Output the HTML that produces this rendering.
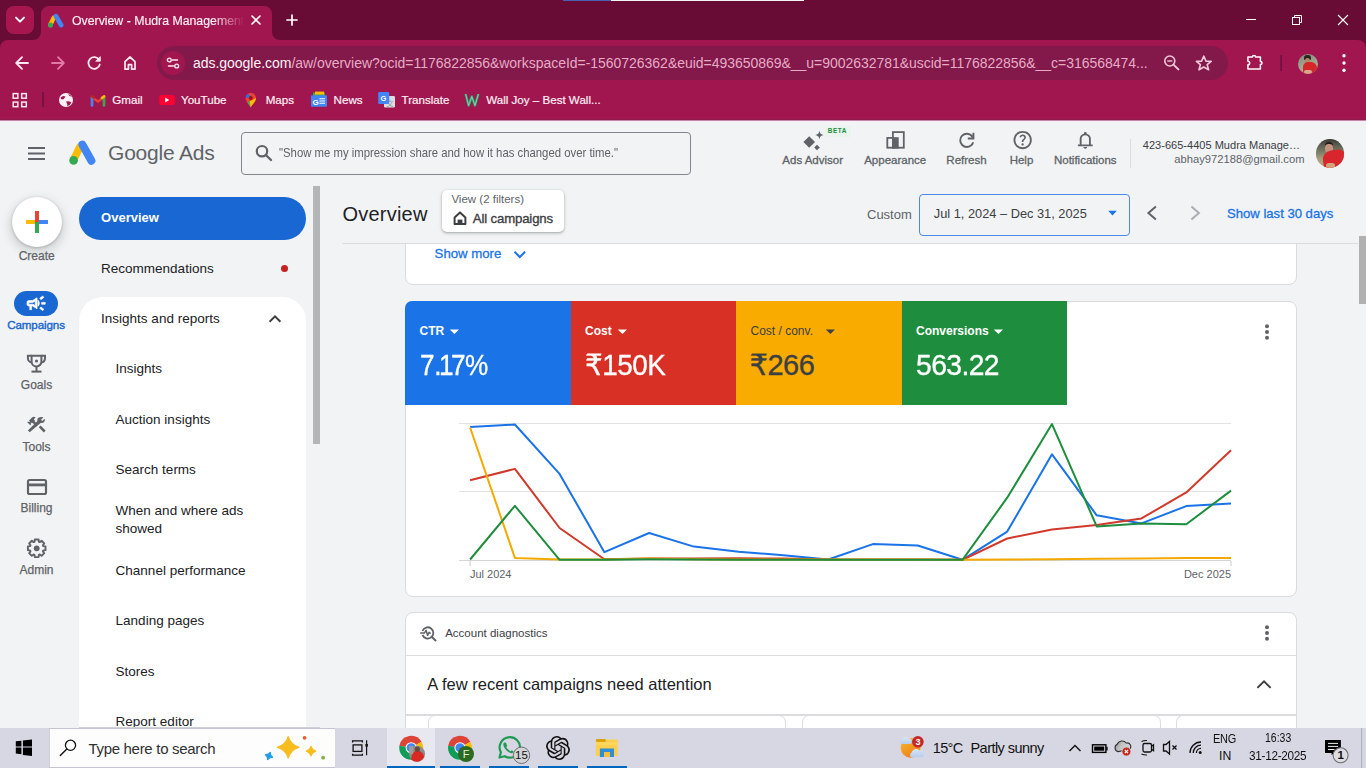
<!DOCTYPE html>
<html><head><meta charset="utf-8"><title>Overview - Mudra Management</title>
<style>
*{box-sizing:border-box;margin:0;padding:0}
html,body{width:1366px;height:768px;overflow:hidden;background:#f1f3f4;font-family:"Liberation Sans",Arial,sans-serif}
.a{position:absolute}
.t{position:absolute;white-space:nowrap;line-height:1}
svg{position:absolute;overflow:visible}
#tabstrip{left:0;top:0;width:1366px;height:50px;background:#680c36}
#toolbar{left:0;top:40px;width:1366px;height:80px;background:#a2164f;border-radius:8px 8px 0 0}
</style></head><body>
<!-- ============ BROWSER CHROME ============ -->
<div id="tabstrip" class="a"></div>
<div id="toolbar" class="a"></div>
<div class="a" style="left:0;top:119px;width:1366px;height:1px;background:#8f1a4d"></div>
<div class="a" style="left:0;top:120px;width:1366px;height:1px;background:#bd8aaa"></div>
<div class="a" style="left:0;top:121px;width:1366px;height:1px;background:#fdebf7"></div>

<!-- top progress bar -->
<div class="a" style="left:563px;top:0;width:48px;height:1px;background:#4a5fb3"></div>
<div class="a" style="left:611px;top:0;width:193px;height:1px;background:#f4f4f6"></div>
<!-- tab search dropdown -->
<div class="a" style="left:6px;top:6px;width:28px;height:28px;border-radius:8px;background:#a7164f"></div>
<svg style="left:0;top:0" width="40" height="40"><polyline points="16,17.6 20,21.6 24,17.6" fill="none" stroke="#fff" stroke-width="1.9" stroke-linecap="round" stroke-linejoin="round"/></svg>
<!-- active tab -->
<svg style="left:0;top:0" width="300" height="40"><path d="M33 40 A8 8 0 0 0 41 32 L41 14 A8 8 0 0 1 49 6 L264 6 A8 8 0 0 1 272 14 L272 32 A8 8 0 0 0 280 40 Z" fill="#a2164f"/></svg>
<svg style="left:48px;top:13px" width="16" height="15" viewBox="0 0 27 24"><line x1="9.5" y1="7.5" x2="3.8" y2="19.6" stroke="#fbbc04" stroke-width="7.5" stroke-linecap="round"/><line x1="13.4" y1="4.6" x2="22.3" y2="19.8" stroke="#4285f4" stroke-width="8" stroke-linecap="round"/><circle cx="4.3" cy="19.6" r="4.3" fill="#34a853"/></svg>
<div class="a" style="left:72px;top:9px;width:172px;height:22px;overflow:hidden;-webkit-mask-image:linear-gradient(90deg,#000 82%,transparent 100%);mask-image:linear-gradient(90deg,#000 82%,transparent 100%)"><div class="t" style="left:0;top:5.6px;font-size:12.3px;color:#fdf0f5;-webkit-text-stroke:0.15px #fdf0f5">Overview - Mudra Management</div></div>
<svg style="left:0;top:0" width="300" height="40"><path d="M252 16 L260 24 M260 16 L252 24" stroke="#fff" stroke-width="1.6" stroke-linecap="round"/><path d="M292 15 V25 M287 20 H297" stroke="#fff" stroke-width="1.7" stroke-linecap="round"/></svg>
<!-- window controls -->
<svg style="left:1230px;top:0" width="136" height="40"><path d="M16 19.5 H26" stroke="#fff" stroke-width="1"/><rect x="62.5" y="17.5" width="7" height="7" fill="none" stroke="#fff" stroke-width="1"/><path d="M64.5 17.5 V15.5 H71.5 V22.5 H69.5" fill="none" stroke="#fff" stroke-width="1"/><path d="M108 15 L118 25 M118 15 L108 25" stroke="#fff" stroke-width="1.1"/></svg>
<!-- nav buttons -->
<svg style="left:0;top:40px" width="150" height="44">
<path d="M16.5 23 H28 M22 17.2 L16.2 23 L22 28.8" fill="none" stroke="#fde7f0" stroke-width="1.8" stroke-linecap="round" stroke-linejoin="round"/>
<path d="M52 23 H63.5 M58 17.2 L63.8 23 L58 28.8" fill="none" stroke="#e07ba6" stroke-width="1.8" stroke-linecap="round" stroke-linejoin="round"/>
<path d="M99.2 20 A5.8 5.8 0 1 0 99.8 24.5" fill="none" stroke="#fde7f0" stroke-width="1.8" stroke-linecap="round"/>
<path d="M100.3 16.6 V21.2 H95.7 Z" fill="#fde7f0" stroke="#fde7f0" stroke-width="0.8" stroke-linejoin="round"/>
<path d="M125 29.2 V21.6 L130 17 L135 21.6 V29.2 H131.6 V24.6 H128.4 V29.2 Z" fill="none" stroke="#fde7f0" stroke-width="1.7" stroke-linejoin="round"/>
</svg>
<!-- omnibox -->
<div class="a" style="left:157px;top:46px;width:1071px;height:34px;border-radius:17px;background:#83184a"></div>
<div class="a" style="left:161px;top:51px;width:24px;height:24px;border-radius:12px;background:#a2164f"></div>
<svg style="left:161px;top:51px" width="24" height="24"><circle cx="8.3" cy="9" r="1.9" fill="none" stroke="#fde7f0" stroke-width="1.4"/><path d="M11.5 9 H16.5 M7.5 15 H12.5" stroke="#fde7f0" stroke-width="1.5" stroke-linecap="round"/><circle cx="15.7" cy="15" r="1.9" fill="none" stroke="#fde7f0" stroke-width="1.4"/></svg>
<div class="t" style="left:193px;top:56.3px;font-size:14px;color:#fdf3f7;letter-spacing:-0.03px">ads.google.com<span style="color:#e6abc6">/aw/overview?ocid=1176822856&amp;workspaceId=-1560726362&amp;euid=493650869&amp;__u=9002632781&amp;uscid=1176822856&amp;__c=316568474...</span></div>
<svg style="left:1150px;top:40px" width="216" height="44">
<circle cx="19.8" cy="21" r="5" fill="none" stroke="#f0c8da" stroke-width="1.6"/><path d="M17.3 21 H22.3" stroke="#f0c8da" stroke-width="1.4"/><path d="M23.5 24.7 L28.5 29.5" stroke="#f0c8da" stroke-width="1.8" stroke-linecap="round"/>
<path d="M53.8 16.2 L56 21.1 L61.2 21.4 L57.2 24.7 L58.6 29.8 L53.8 27 L49 29.8 L50.4 24.7 L46.4 21.4 L51.6 21.1 Z" fill="none" stroke="#f0c8da" stroke-width="1.6" stroke-linejoin="round"/>
<path d="M97.9 17 H102.4 A1.6 1.6 0 0 1 105.6 17 H110.4 V21.4 A1.6 1.6 0 0 1 110.4 24.6 V29 H97.9 V24.8 A1.8 1.8 0 0 0 97.9 21.2 Z" fill="none" stroke="#fff" stroke-width="1.5" stroke-linejoin="round"/>
<rect x="130.3" y="15" width="1.6" height="16" fill="#6e1040"/>
<circle cx="194" cy="15.8" r="1.7" fill="#fff"/><circle cx="194" cy="23" r="1.7" fill="#fff"/><circle cx="194" cy="30.2" r="1.7" fill="#fff"/>
</svg>
<!-- profile avatar in toolbar -->
<div class="a" style="left:1298px;top:53.5px;width:20px;height:20px;border-radius:10px;overflow:hidden;background:linear-gradient(160deg,#7d8a78 0%,#a3a58f 50%,#b9b49c 100%)"><div class="a" style="left:6px;top:1.5px;width:7px;height:5px;border-radius:3px 3px 1px 1px;background:#2a2320"></div><div class="a" style="left:7px;top:4px;width:5px;height:5.5px;border-radius:2.5px;background:#b98468"></div><div class="a" style="left:5px;top:8.5px;width:14px;height:13px;border-radius:5px 6px 0 0;background:#d5262a"></div><div class="a" style="left:6px;top:16px;width:8px;height:4px;border-radius:2px;background:#d8a88c"></div></div>

<!-- bookmarks -->
<svg style="left:0;top:84px" width="620" height="36">
<rect x="13.2" y="9.6" width="4.6" height="4.6" fill="none" stroke="#fde7f0" stroke-width="1.5"/><rect x="21.7" y="9.6" width="4.6" height="4.6" fill="none" stroke="#fde7f0" stroke-width="1.5"/>
<rect x="13.2" y="18.1" width="4.6" height="4.6" fill="none" stroke="#fde7f0" stroke-width="1.5"/><rect x="21.7" y="18.1" width="4.6" height="4.6" fill="none" stroke="#fde7f0" stroke-width="1.5"/>
<rect x="42.2" y="8" width="1.6" height="15" fill="#6e1040"/>
<circle cx="66" cy="16" r="7" fill="#fdf0f5"/>
<path d="M60.5 13.5 Q63 11 65.5 12.5 Q64.5 15 62 15.5 Q60.8 15 60.5 13.5 Z M66 17.5 Q69 16.5 71.5 18.5 Q70 21.5 67.2 22.2 Q67.8 19.8 66 17.5 Z M68 10 Q70.5 10.6 72 12.8 Q69.5 13 68 10 Z" fill="#a2164f"/>
<!-- gmail -->
<path d="M92 20.8 V13 L98 17.6 L104 13 V20.8" fill="none" stroke="#ea4335" stroke-width="2.4" stroke-linejoin="round"/>
<path d="M92 13.2 V21.5" stroke="#4285f4" stroke-width="2.6" stroke-linecap="round"/><path d="M104 13.2 V21.5" stroke="#34a853" stroke-width="2.6" stroke-linecap="round"/><path d="M102 13.8 L104.2 12.4" stroke="#fbbc04" stroke-width="2.6" stroke-linecap="round"/><path d="M92 12.4 L94 13.8" stroke="#c5221f" stroke-width="2.6" stroke-linecap="round"/>
<!-- youtube -->
<rect x="159.2" y="11" width="15.6" height="10" rx="2.6" fill="#ff0033"/><path d="M165.2 13.6 V18.4 L169.2 16 Z" fill="#fff"/>
<!-- maps -->
<path d="M250.7 23.5 C249 20 245.6 17.6 245.6 14 A5.2 5.2 0 0 1 256 14 C256 17.6 252.4 20 250.7 23.5 Z" fill="#ea4335"/>
<path d="M245.6 14 A5.2 5.2 0 0 1 248 9.7 L251 13 Z" fill="#1a73e8"/><path d="M256 14 C256 17.6 252.4 20 250.7 23.5 C250 21.5 248.5 20 247.6 18.5 Z" fill="#fbbc04"/><path d="M250.7 23.5 C250 21.5 248.5 20 247.6 18.5 L249.5 16.8 Z" fill="#34a853"/>
<circle cx="250.8" cy="14" r="1.9" fill="#a50e0e"/>
<!-- news -->
<rect x="313" y="8.5" width="12" height="4" fill="#34a853"/><rect x="315" y="7.6" width="9" height="3" fill="#fbbc04"/>
<rect x="311" y="11.2" width="16" height="11.6" rx="1" fill="#4285f4"/>
<text x="312.4" y="20.6" font-family="Liberation Sans" font-weight="700" font-size="8" fill="#fff">G</text><path d="M319.4 14.8 H325 M319.4 17 H325 M319.4 19.2 H325" stroke="#fff" stroke-width="1.1"/>
<!-- translate -->
<rect x="384" y="12" width="11" height="11.5" rx="1.2" fill="#dadce0"/><text x="386.5" y="21.5" font-family="Liberation Sans, Noto Sans CJK SC, sans-serif" font-size="7" fill="#9aa0a6">文</text>
<rect x="378.2" y="8" width="11" height="12" rx="1.2" fill="#4285f4"/><text x="380.4" y="17.4" font-family="Liberation Sans" font-weight="700" font-size="7.5" fill="#fff">G</text>
<!-- walljoy -->
<path d="M465.6 10 L468.6 21.5 L471.8 12.5 L475 21.5 L478.4 10" fill="none" stroke="#2e9e6f" stroke-width="2.4" stroke-linejoin="round"/>
<path d="M465.6 10 L468.6 21.5 L471.8 12.5 L475 21.5 L478.4 10" fill="none" stroke="#8de0b8" stroke-width="0.8" stroke-linejoin="round"/>
</svg>
<div class="t" style="left:112.3px;top:94.18px;font-size:11.6px;color:#fdf0f5;-webkit-text-stroke:0.2px #fdf0f5;">Gmail</div>
<div class="t" style="left:181px;top:94.18px;font-size:11.6px;color:#fdf0f5;-webkit-text-stroke:0.2px #fdf0f5;">YouTube</div>
<div class="t" style="left:265.7px;top:94.18px;font-size:11.6px;color:#fdf0f5;-webkit-text-stroke:0.2px #fdf0f5;">Maps</div>
<div class="t" style="left:333.6px;top:94.18px;font-size:11.6px;color:#fdf0f5;-webkit-text-stroke:0.2px #fdf0f5;">News</div>
<div class="t" style="left:401.5px;top:94.18px;font-size:11.6px;color:#fdf0f5;-webkit-text-stroke:0.2px #fdf0f5;">Translate</div>
<div class="t" style="left:486.2px;top:94.18px;font-size:11.6px;color:#fdf0f5;-webkit-text-stroke:0.2px #fdf0f5;">Wall Joy – Best Wall...</div>
<!-- ============ PAGE ============ -->
<svg style="left:0;top:121px" width="320" height="60">
<path d="M28 27 H45 M28 32.5 H45 M28 38 H45" stroke="#5f6368" stroke-width="2"/>
<line x1="79.5" y1="26.5" x2="73.6" y2="39.2" stroke="#fbbc04" stroke-width="7.6" stroke-linecap="round"/>
<line x1="82.4" y1="23.6" x2="91.4" y2="39.8" stroke="#4285f4" stroke-width="8" stroke-linecap="round"/>
<circle cx="73.6" cy="39.4" r="4.3" fill="#34a853"/>
</svg>
<div class="t" style="left:108px;top:142.42px;font-size:21px;color:#5f6368;letter-spacing:-0.2px">Google Ads</div>
<div class="a" style="left:241px;top:132px;width:450px;height:43px;border:1px solid #80868b;border-radius:4px"></div>
<svg style="left:240px;top:128px" width="40" height="40"><circle cx="22" cy="23.2" r="5.2" fill="none" stroke="#5f6368" stroke-width="2.2"/><path d="M25.8 27 L31 32" stroke="#5f6368" stroke-width="2.4" stroke-linecap="round"/></svg>
<div class="t" style="left:279px;top:145.83px;font-size:13.2px;color:#5f6368;transform:scaleX(0.86);transform-origin:0 0">"Show me my impression share and how it has changed over time."</div>
<svg style="left:780px;top:122px" width="340" height="30" fill="#5f6368">
<path d="M29.2 14.2 L35 20 L29.2 25.8 L23.4 20 Z"/><path d="M39.4 8.8 Q39.9 12.5 43.6 13 Q39.9 13.5 39.4 17.2 Q38.9 13.5 35.2 13 Q38.9 12.5 39.4 8.8 Z"/><path d="M37 22.7 L39.8 25.5 L37 28.3 L34.2 25.5 Z"/>
<rect x="45" y="4" width="26" height="11" rx="2" fill="#e6f4ea" opacity=".7"/>
<rect x="107.3" y="15.9" width="6" height="9.8" fill="none" stroke="#5f6368" stroke-width="1.8"/><rect x="112.9" y="10.1" width="10.9" height="15.6" fill="none" stroke="#5f6368" stroke-width="1.8"/><rect x="112.5" y="15.2" width="6.2" height="11.4"/>
<g transform="translate(175.5,7) scale(0.0236)"><path transform="translate(0,960)" d="M480-160q-134 0-227-93t-93-227q0-134 93-227t227-93q69 0 132 28.5T720-690v-110h80v280H520v-80h168q-32-56-87.5-88T480-720q-100 0-170 70t-70 170q0 100 70 170t170 70q77 0 139-44t87-116h84q-28 106-114 173t-196 67Z"/></g>
<g transform="translate(231.67,7.07) scale(0.02288)"><path transform="translate(0,960)" d="M478-240q21 0 35.5-14.5T528-290q0-21-14.5-35.5T478-340q-21 0-35.5 14.5T428-290q0 21 14.5 35.5T478-240Zm-36-154h74q0-33 7.5-52t42.5-52q26-26 41-49.5t15-56.5q0-56-41-86t-97-30q-57 0-92.5 30T342-618l66 26q5-18 22.5-39t53.5-21q32 0 48 17.5t16 38.5q0 20-12 37.5T506-526q-44 39-54 59t-10 73Zm38 314q-83 0-156-31.5T197-197q-54-54-85.5-127T80-480q0-83 31.5-156T197-763q54-54 127-85.5T480-880q83 0 156 31.5T763-763q54 54 85.5 127T880-480q0 83-31.5 156T763-197q-54 54-127 85.5T480-80Zm0-80q134 0 227-93t93-227q0-134-93-227t-227-93q-134 0-227 93t-93 227q0 134 93 227t227 93Zm0-320Z"/></g>
<g transform="translate(294.2,8.3) scale(0.0231,0.021)"><path transform="translate(0,960)" d="M160-200v-80h80v-280q0-83 50-147.5T420-792v-28q0-25 17.5-42.5T480-880q25 0 42.5 17.5T540-820v28q80 20 130 84.5T720-560v280h80v80H160Zm320-300Zm0 420q-33 0-56.5-23.5T400-160h160q0 33-23.5 56.5T480-80ZM320-280h320v-280q0-66-47-113t-113-47q-66 0-113 47t-47 113v280Z"/></g>
</svg>
<div class="t" style="left:827.8px;top:128.3px;font-size:6.4px;font-weight:700;color:#1e8e3e;letter-spacing:0.55px">BETA</div>
<div class="t" style="left:712.7px;width:200px;text-align:center;top:154.87px;font-size:11.5px;color:#5f6368;-webkit-text-stroke:0.3px #5f6368">Ads Advisor</div>
<div class="t" style="left:795.2px;width:200px;text-align:center;top:154.87px;font-size:11.5px;color:#5f6368;-webkit-text-stroke:0.3px #5f6368">Appearance</div>
<div class="t" style="left:866.5px;width:200px;text-align:center;top:154.87px;font-size:11.5px;color:#5f6368;-webkit-text-stroke:0.3px #5f6368">Refresh</div>
<div class="t" style="left:921.5px;width:200px;text-align:center;top:154.87px;font-size:11.5px;color:#5f6368;-webkit-text-stroke:0.3px #5f6368">Help</div>
<div class="t" style="left:985.3px;width:200px;text-align:center;top:154.87px;font-size:11.5px;color:#5f6368;-webkit-text-stroke:0.3px #5f6368">Notifications</div>
<div class="a" style="left:1130px;top:138.5px;width:1px;height:29px;background:#dadce0"></div>
<div class="t" style="left:1142.8px;top:139.55px;font-size:11.05px;color:#3c4043;">423-665-4405 Mudra Manage…</div>
<div class="t" style="left:904.5px;width:400px;text-align:right;top:153.52px;font-size:11.2px;color:#5f6368;">abhay972188@gmail.com</div>
<div class="a" style="left:1316px;top:139.2px;width:28.4px;height:28.6px;border-radius:50%;overflow:hidden;background:linear-gradient(180deg,#3b3833 0%,#5d5e52 22%,#7b7d66 45%,#a9a27c 70%,#b8a67e 100%)">
<div class="a" style="left:8.5px;top:2.5px;width:8.5px;height:5.5px;border-radius:4px 4px 1px 1px;background:#231d1a"></div>
<div class="a" style="left:9px;top:5px;width:7.5px;height:8.5px;border-radius:3.5px 3.5px 4px 4px;background:#c29480"></div>
<div class="a" style="left:6.5px;top:11px;width:23px;height:19px;border-radius:9px 7px 0 0;background:#d9252d;transform:rotate(-8deg)"></div>
<div class="a" style="left:10px;top:23.5px;width:9px;height:5px;border-radius:3px;background:#d6a27e"></div></div>
<div class="a" style="left:12px;top:197px;width:50px;height:50px;border-radius:25px;background:#fff;box-shadow:0 1px 3px rgba(60,64,67,.3),0 4px 8px 3px rgba(60,64,67,.15)"></div>
<svg style="left:0;top:180px" width="80" height="60">
<rect x="26" y="40" width="11" height="4" fill="#fbbc04"/><rect x="37" y="40" width="11" height="4" fill="#4285f4"/>
<rect x="35" y="31" width="4" height="11" fill="#ea4335"/><rect x="35" y="42" width="4" height="11" fill="#34a853"/>
</svg>
<div class="t" style="left:-63.3px;width:200px;text-align:center;top:249.84px;font-size:12px;color:#5f6368;-webkit-text-stroke:0.25px #5f6368">Create</div>
<div class="a" style="left:14px;top:291px;width:44px;height:25px;border-radius:12.5px;background:#1967d2"></div>
<svg style="left:14px;top:291px" width="44" height="25" fill="#fff"><g transform="translate(11.18,1.35) scale(0.0228)"><path transform="translate(0,960)" stroke="#fff" stroke-width="30" d="M720-440v-80h160v80H720Zm48 280-128-96 48-64 128 96-48 64Zm-80-480-48-64 128-96 48 64-128 96ZM200-200v-160h-40q-33 0-56.5-23.5T80-440v-80q0-33 23.5-56.5T160-600h160l200-120v480L320-360h-40v160h-80Zm240-182v-196l-98 58H160v80h182l98 58Zm120 36v-268q27 24 43.5 58.5T620-480q0 41-16.5 75.5T560-346ZM300-480Z"/></g></svg>
<div class="t" style="left:-64px;width:200px;text-align:center;top:319.27px;font-size:11.6px;color:#1967d2;-webkit-text-stroke:0.4px #1967d2;letter-spacing:-0.1px">Campaigns</div>
<svg style="left:0;top:340px" width="80" height="240" fill="#5f6368">
<path d="M31.6 15.8 H41.4 V21.6 A4.9 4.9 0 0 1 31.6 21.6 Z" fill="none" stroke="#5f6368" stroke-width="2"/>
<path d="M31.6 15.8 H27.9 V18.2 A4.3 4.3 0 0 0 31.9 22.5 M41.4 15.8 H45 V18.2 A4.3 4.3 0 0 1 41.1 22.5" fill="none" stroke="#5f6368" stroke-width="2"/>
<circle cx="36.5" cy="21" r="1.6"/><rect x="35.5" y="26.2" width="2" height="5"/><rect x="31.5" y="30.6" width="10" height="2"/>
<g transform="translate(27.2,74.6) scale(0.84)"><path d="M13.783 15.172l2.121-2.121 5.996 5.996-2.121 2.121zM17.5 10c1.93 0 3.5-1.57 3.5-3.5 0-.58-.16-1.12-.41-1.6l-2.7 2.7-1.49-1.49 2.7-2.7c-.48-.25-1.020-.41-1.6-.41C13.57 3 12 4.570 12 6.5c0 .41.08.8.21 1.16l-1.85 1.85-1.78-1.78.71-.71-1.41-1.41L10 3.49c-1.17-1.17-3.07-1.17-4.24 0L2.22 7.03l1.41 1.41H.81l-.71.71 3.54 3.54.71-.71V9.15l1.41 1.41.71-.71 1.780 1.78-7.410 7.41 2.12 2.12L16.34 9.79c.36.13.75.21 1.16.21z"/></g>
<rect x="28" y="140" width="18" height="14" rx="1.6" fill="none" stroke="#5f6368" stroke-width="2.2"/><rect x="28" y="143.5" width="18" height="2.8"/>
<g transform="translate(36.7,208.3)"><path d="M6.54 -2.19 L8.80 -1.87 L8.80 1.87 L6.54 2.19 L6.18 3.08 L7.55 4.90 L4.90 7.55 L3.08 6.18 L2.19 6.54 L1.87 8.80 L-1.87 8.80 L-2.19 6.54 L-3.08 6.18 L-4.90 7.55 L-7.55 4.90 L-6.18 3.08 L-6.54 2.19 L-8.80 1.87 L-8.80 -1.87 L-6.54 -2.19 L-6.18 -3.08 L-7.55 -4.90 L-4.90 -7.55 L-3.08 -6.18 L-2.19 -6.54 L-1.87 -8.80 L1.87 -8.80 L2.19 -6.54 L3.08 -6.18 L4.90 -7.55 L7.55 -4.90 L6.18 -3.08 Z" fill="none" stroke="#5f6368" stroke-width="1.9" stroke-linejoin="round"/><circle r="2.9"/></g>
</svg>
<div class="t" style="left:-63.5px;width:200px;text-align:center;top:379.34px;font-size:12px;color:#5f6368;-webkit-text-stroke:0.25px #5f6368">Goals</div>
<div class="t" style="left:-63.5px;width:200px;text-align:center;top:440.54px;font-size:12px;color:#5f6368;-webkit-text-stroke:0.25px #5f6368">Tools</div>
<div class="t" style="left:-63.5px;width:200px;text-align:center;top:501.74px;font-size:12px;color:#5f6368;-webkit-text-stroke:0.25px #5f6368">Billing</div>
<div class="t" style="left:-63.5px;width:200px;text-align:center;top:563.54px;font-size:12px;color:#5f6368;-webkit-text-stroke:0.25px #5f6368">Admin</div>
<div class="a" style="left:79px;top:197px;width:227px;height:43px;border-radius:21.5px;background:#1967d2"></div>
<div class="t" style="left:101.1px;top:211.00px;font-size:13px;color:#fff;font-weight:700">Overview</div>
<div class="t" style="left:101.1px;top:261.67px;font-size:13.5px;color:#202124;">Recommendations</div>
<div class="a" style="left:281px;top:265.1px;width:7px;height:7px;border-radius:4px;background:#c5221f"></div>
<div class="a" style="left:79px;top:297px;width:227px;height:460px;border-radius:24px 24px 0 0;background:#fff"></div>
<div class="t" style="left:101.1px;top:312.07px;font-size:13.5px;color:#202124;">Insights and reports</div>
<svg style="left:260px;top:305px" width="30" height="30"><path d="M9.6 16.8 L15 11.4 L20.4 16.8" fill="none" stroke="#3c4043" stroke-width="2"/></svg>
<div class="t" style="left:115.6px;top:362.17px;font-size:13.5px;color:#202124;">Insights</div>
<div class="t" style="left:115.6px;top:412.87px;font-size:13.5px;color:#202124;">Auction insights</div>
<div class="t" style="left:115.6px;top:462.87px;font-size:13.5px;color:#202124;">Search terms</div>
<div class="t" style="left:115.6px;top:504.17px;font-size:13.5px;color:#202124;">When and where ads</div>
<div class="t" style="left:115.6px;top:521.67px;font-size:13.5px;color:#202124;">showed</div>
<div class="t" style="left:115.6px;top:564.07px;font-size:13.5px;color:#202124;">Channel performance</div>
<div class="t" style="left:115.6px;top:614.17px;font-size:13.5px;color:#202124;">Landing pages</div>
<div class="t" style="left:115.6px;top:664.92px;font-size:13.5px;color:#202124;">Stores</div>
<div class="t" style="left:115.6px;top:714.67px;font-size:13.5px;color:#202124;">Report editor</div>
<div class="a" style="left:313px;top:186px;width:7px;height:258px;background:#b4b5b7"></div>

<!-- ===== main content ===== -->
<div class="a" style="left:404.5px;top:200px;width:892px;height:84.5px;background:#fff;border:1px solid #dadce0;border-radius:8px"></div>
<div class="t" style="left:434.6px;top:247.3px;font-size:13.2px;color:#1a73e8;-webkit-text-stroke:0.3px #1a73e8">Show more</div>
<svg style="left:505px;top:245px" width="30" height="20"><path d="M9.5 6.8 L14.8 12 L20.1 6.8" fill="none" stroke="#1a73e8" stroke-width="2"/></svg>
<div class="a" style="left:330px;top:186px;width:1028px;height:57px;background:#f1f3f4"></div>
<div class="a" style="left:342px;top:243px;width:1016px;height:1px;background:#dadce0"></div>
<div class="t" style="left:342.6px;top:203.87px;font-size:20px;color:#202124;letter-spacing:0.2px">Overview</div>
<div class="a" style="left:442px;top:190px;width:122px;height:42px;background:#fff;border-radius:5px;box-shadow:0 1px 2px rgba(60,64,67,.3),0 1px 3px 1px rgba(60,64,67,.12)"></div>
<div class="t" style="left:451.4px;top:193.87px;font-size:11.5px;color:#5f6368;">View (2 filters)</div>
<svg style="left:450px;top:208px" width="20" height="20"><path d="M4.6 16 V9.4 L10 4.4 L15.4 9.4 V16 Z" fill="none" stroke="#3c4043" stroke-width="2" stroke-linejoin="round"/><rect x="7.6" y="11.6" width="4.8" height="4.6" fill="#3c4043"/></svg>
<div class="t" style="left:472.8px;top:211.67px;font-size:13.2px;color:#3c4043;-webkit-text-stroke:0.35px #3c4043;letter-spacing:-0.15px">All campaigns</div>
<div class="t" style="left:867px;top:207.80px;font-size:13px;color:#5f6368;">Custom</div>
<div class="a" style="left:919px;top:194px;width:211px;height:42px;border:1.3px solid #4a8ae6;border-radius:4px"></div>
<div class="t" style="left:933.8px;top:207.96px;font-size:12.8px;color:#3c4043;">Jul 1, 2024 – Dec 31, 2025</div>
<svg style="left:1100px;top:200px" width="120" height="30"><path d="M8.2 10.8 H16.8 L12.5 15.6 Z" fill="#1a73e8"/><path d="M55.9 6.4 L48.4 13 L55.9 19.6" fill="none" stroke="#5f6368" stroke-width="2"/><path d="M91.4 6.4 L98.9 13 L91.4 19.6" fill="none" stroke="#aaadb1" stroke-width="2"/></svg>
<div class="t" style="left:1227px;top:206.81px;font-size:13.1px;color:#1a73e8;-webkit-text-stroke:0.3px #1a73e8">Show last 30 days</div>
<div class="a" style="left:1359px;top:236px;width:7px;height:67.5px;background:#b1b1b1"></div>
<div class="a" style="left:404.5px;top:300.5px;width:892px;height:296px;background:#fff;border:1px solid #dadce0;border-radius:8px"></div>
<div class="a" style="left:405px;top:301px;width:166px;height:103.5px;background:#1b73e8;border-radius:7px 0 0 0"></div>
<div class="a" style="left:570.8px;top:301px;width:165.5px;height:103.5px;background:#d93025"></div>
<div class="a" style="left:736.2px;top:301px;width:165.8px;height:103.5px;background:#f9ab00"></div>
<div class="a" style="left:902px;top:301px;width:165px;height:103.5px;background:#1e8e3e"></div>
<div class="t" style="left:419.5px;top:324.74px;font-size:12px;color:#fff;font-weight:700">CTR</div>
<div class="t" style="left:419.5px;top:350.65px;font-size:29px;color:#fff;letter-spacing:-0.4px;-webkit-text-stroke:0.35px #fff;font-family:'Liberation Sans','DejaVu Sans',sans-serif;transform:scaleX(0.9);transform-origin:0 0">7.<span style="margin:0 -2.6px 0 -2.2px">1</span>7%</div>
<div class="t" style="left:585px;top:324.74px;font-size:12px;color:#fff;font-weight:700">Cost</div>
<div class="t" style="left:585px;top:350.65px;font-size:29px;color:#fff;letter-spacing:-0.5px;-webkit-text-stroke:0.35px #fff;font-family:'Liberation Sans','DejaVu Sans',sans-serif;transform:scaleX(0.96);transform-origin:0 0">₹150K</div>
<div class="t" style="left:750.5px;top:324.74px;font-size:12px;color:#3c4043;">Cost / conv.</div>
<div class="t" style="left:749.5px;top:350.65px;font-size:29px;color:#3c4043;letter-spacing:-0.5px;-webkit-text-stroke:0.35px #3c4043;font-family:'Liberation Sans','DejaVu Sans',sans-serif">₹266</div>
<div class="t" style="left:916px;top:324.74px;font-size:12px;color:#fff;font-weight:700">Conversions</div>
<div class="t" style="left:916px;top:350.65px;font-size:29px;color:#fff;letter-spacing:-0.6px;-webkit-text-stroke:0.35px #fff;font-family:'Liberation Sans','DejaVu Sans',sans-serif;transform:scaleX(0.975);transform-origin:0 0">563.22</div>
<svg style="left:400px;top:320px" width="700" height="20" ><path d="M49.8 9.4 H59 L54.4 14.1 Z M217.8 9.4 H227 L222.4 14.1 Z" fill="#fff"/><path d="M425.8 9.4 H435 L430.4 14.1 Z" fill="#3c4043"/><path d="M593.8 9.4 H603 L598.4 14.1 Z" fill="#fff"/></svg>
<svg style="left:1255px;top:320px" width="24" height="24" fill="#5f6368"><circle cx="12" cy="6.2" r="2"/><circle cx="12" cy="12" r="2"/><circle cx="12" cy="17.8" r="2"/></svg>
<svg style="left:0;top:0" width="1366" height="768">
<line x1="459" y1="423.5" x2="1231" y2="423.5" stroke="#e3e3e3" stroke-width="1"/>
<line x1="459" y1="491.5" x2="1231" y2="491.5" stroke="#e3e3e3" stroke-width="1"/>
<line x1="459" y1="560.5" x2="1231" y2="560.5" stroke="#d6d6d6" stroke-width="1"/>
<line x1="470.1" y1="561" x2="470.1" y2="566" stroke="#ccc" stroke-width="1"/><line x1="1231" y1="561" x2="1231" y2="566" stroke="#ccc" stroke-width="1"/>
<polyline points="470.1,427.1 514.9,424.5 559.6,473.9 604.4,552.2 649.1,533.0 693.9,546.6 738.7,551.8 783.4,555.2 828.2,559.5 872.9,544.1 917.7,545.5 962.5,559.8 1007.2,531.6 1052.0,454.3 1096.7,515.3 1141.5,523.4 1186.3,506.1 1231.0,503.4" fill="none" stroke="#1a73e8" stroke-width="2" stroke-linejoin="round"/>
<polyline points="470.1,480.2 514.9,468.9 559.6,528.0 604.4,559.3 649.1,558.6 693.9,558.4 738.7,558.3 783.4,558.6 828.2,559.5 872.9,559.5 917.7,559.5 962.5,559.8 1007.2,538.5 1052.0,529.6 1096.7,525.0 1141.5,518.4 1186.3,492.4 1231.0,450.3" fill="none" stroke="#d0392b" stroke-width="2" stroke-linejoin="round"/>
<polyline points="470.1,427.5 514.9,557.9 559.6,559.5 604.4,559.5 649.1,558.6 693.9,559.3 738.7,559.5 783.4,559.5 828.2,559.5 872.9,559.5 917.7,559.5 962.5,559.8 1007.2,559.5 1052.0,559.3 1096.7,558.8 1141.5,558.5 1186.3,558.0 1231.0,558.0" fill="none" stroke="#f4a900" stroke-width="2" stroke-linejoin="round"/>
<polyline points="470.1,559.5 514.9,505.8 559.6,559.8 604.4,559.8 649.1,559.2 693.9,559.5 738.7,559.8 783.4,559.8 828.2,559.8 872.9,559.8 917.7,559.8 962.5,559.8 1007.2,497.7 1052.0,424.1 1096.7,526.4 1141.5,523.6 1186.3,524.3 1231.0,490.6" fill="none" stroke="#1e8e3e" stroke-width="2" stroke-linejoin="round"/>
</svg>
<div class="t" style="left:469.9px;top:568.69px;font-size:11px;color:#5f6368;">Jul 2024</div>
<div class="t" style="left:831px;width:400px;text-align:right;top:568.59px;font-size:11px;color:#5f6368;">Dec 2025</div>
<div class="a" style="left:404.5px;top:611.5px;width:892px;height:200px;background:#fff;border:1px solid #dadce0;border-radius:8px"></div>
<div class="a" style="left:405px;top:655px;width:891px;height:1px;background:#dadce0"></div>
<svg style="left:418px;top:624px" width="22" height="22"><path d="M4.49 6.98 A5.6 5.6 0 1 1 4.49 10.82" fill="none" stroke="#5f6368" stroke-width="1.8"/><path d="M13.7 12.8 L17.5 16.5" stroke="#5f6368" stroke-width="2" stroke-linecap="round"/><path d="M2.2 8.9 H6.6 L8.1 6.4 L9.6 11.3 L11.1 8.3 L12.6 9.6" fill="none" stroke="#5f6368" stroke-width="1.5" stroke-linejoin="round"/></svg>
<div class="t" style="left:445.2px;top:627.77px;font-size:11.5px;color:#3c4043;">Account diagnostics</div>
<svg style="left:1255px;top:621px" width="24" height="24" fill="#5f6368"><circle cx="12" cy="6.2" r="2"/><circle cx="12" cy="12" r="2"/><circle cx="12" cy="17.8" r="2"/></svg>
<div class="t" style="left:427.3px;top:676.03px;font-size:16.5px;color:#202124;">A few recent campaigns need attention</div>
<svg style="left:1250px;top:670px" width="30" height="30"><path d="M7.4 17.9 L14 11.3 L20.6 17.9" fill="none" stroke="#3c4043" stroke-width="2"/></svg>
<div class="a" style="left:405px;top:714px;width:891px;height:1.5px;background:#dadce0"></div>
<div class="a" style="left:427.7px;top:714.6px;width:358.5px;height:30px;border:1px solid #dadce0;border-radius:7px;background:#fff"></div>
<div class="a" style="left:801.5px;top:714.6px;width:359px;height:30px;border:1px solid #dadce0;border-radius:7px;background:#fff"></div>
<div class="a" style="left:1175.5px;top:714.6px;width:100px;height:30px;border:1px solid #dadce0;border-right:none;border-radius:7px 0 0 7px;background:#fff"></div>


<div class="a" style="left:79px;top:727px;width:241px;height:1px;background:#cfd0d5"></div>
<!-- ===== taskbar ===== -->
<div class="a" style="left:0;top:728px;width:1366px;height:40px;background:#d6d7e3"></div>
<div class="a" style="left:48.7px;top:728px;width:286.3px;height:40px;background:#fdfdfe;border-top:1px solid #c3c4cf;border-bottom:1px solid #c3c4cf;border-left:1px solid #cfd0da"></div>
<div class="t" style="left:88.4px;top:741.20px;font-size:15px;color:#303030;letter-spacing:-0.3px">Type here to search</div>
<div class="a" style="left:387px;top:728px;width:48px;height:40px;background:#e8e8f0"></div>
<div class="a" style="left:387px;top:766px;width:48px;height:2px;background:#0067c0"></div>
<div class="a" style="left:440px;top:766px;width:40px;height:2px;background:#0067c0"></div>
<div class="a" style="left:489px;top:766px;width:40.299999999999955px;height:2px;background:#0067c0"></div>
<div class="a" style="left:538.4px;top:766px;width:39.39999999999998px;height:2px;background:#0067c0"></div>
<div class="a" style="left:587px;top:766px;width:40.299999999999955px;height:2px;background:#0067c0"></div>
<svg style="left:0;top:728px" width="1366" height="40">
<path d="M15.8 13.3 L21.4 12.7 V18.6 H15.8 Z M22.9 12.6 L32 11.6 V18.6 H22.9 Z M15.8 19.6 H21.4 V26.2 L15.8 25.6 Z M22.9 19.6 H32 V28 L22.9 26.9 Z" fill="#000"/>
<circle cx="70.5" cy="17.3" r="5.1" fill="none" stroke="#111" stroke-width="1.3"/><path d="M66.8 21 L60.3 27.5" stroke="#111" stroke-width="1.4" stroke-linecap="round"/>



<path d="M288.2 8.5 C289.93 14.55 292.95 17.57 299.00 19.30 C292.95 21.03 289.93 24.05 288.20 30.10 C286.47 24.05 283.45 21.03 277.40 19.30 C283.45 17.57 286.47 14.55 288.20 8.50 Z" fill="#f7bd1f" stroke="#f7bd1f" stroke-width="1.2" stroke-linejoin="round"/><path d="M311 18.3 C311.77 20.99 313.11 22.33 315.80 23.10 C313.11 23.87 311.77 25.21 311.00 27.90 C310.23 25.21 308.89 23.87 306.20 23.10 C308.89 22.33 310.23 20.99 311.00 18.30 Z" fill="#f7bd1f" stroke="#f7bd1f" stroke-width="1.2" stroke-linejoin="round"/><path d="M269 24.2 C269.61 26.33 270.67 27.39 272.80 28.00 C270.67 28.61 269.61 29.67 269.00 31.80 C268.39 29.67 267.33 28.61 265.20 28.00 C267.33 27.39 268.39 26.33 269.00 24.20 Z" fill="#1e9be9" stroke="#1e9be9" stroke-width="1.2" stroke-linejoin="round" transform="rotate(20 269 28)"/><circle cx="304.6" cy="9.8" r="1.9" fill="#e0622a"/><circle cx="323.1" cy="29.7" r="1.9" fill="#7cb342"/>
<path d="M352.6 14.5 V12.8 H362.4 V14.5 M352.6 25.7 V27.2 H362.4 V25.7" fill="none" stroke="#111" stroke-width="1.3"/><rect x="353.1" y="16.9" width="8.8" height="6.5" fill="none" stroke="#111" stroke-width="1.3"/><path d="M366.6 12.3 V27.2" stroke="#111" stroke-width="1.2"/><rect x="365.4" y="16" width="2.5" height="2.6" fill="#111"/>
</svg>
<svg style="left:0;top:0" width="640" height="768">
<path d="M411.2 747.8 L399.38 745.72 A12 12 0 0 1 421.59 741.80 Z" fill="#db4437"/><path d="M411.2 747.8 L421.59 741.80 A12 12 0 0 1 411.20 759.80 Z" fill="#fbbc04"/><path d="M411.2 747.8 L411.20 759.80 A12 12 0 0 1 399.38 745.72 Z" fill="#0f9d58"/><circle cx="411.2" cy="747.8" r="5.64" fill="#fff"/><circle cx="411.2" cy="747.8" r="4.56" fill="#4285f4"/>
<circle cx="417.1" cy="753.8" r="8" fill="#8d8d8d"/><path d="M411 759.5 Q412 751 417.5 750.8 Q423 751 424.2 757 Q421 761.8 417 761.8 Q413.5 761.8 411 759.5 Z" fill="#d82a22"/><circle cx="417.3" cy="749.2" r="2.6" fill="#6b4a3a"/><rect x="409.1" y="745.8" width="4" height="8" fill="#a9a196" opacity=".8"/>
<path d="M460 747.8 L448.18 745.72 A12 12 0 0 1 470.39 741.80 Z" fill="#db4437"/><path d="M460 747.8 L470.39 741.80 A12 12 0 0 1 460.00 759.80 Z" fill="#fbbc04"/><path d="M460 747.8 L460.00 759.80 A12 12 0 0 1 448.18 745.72 Z" fill="#0f9d58"/><circle cx="460" cy="747.8" r="5.64" fill="#fff"/><circle cx="460" cy="747.8" r="4.56" fill="#4285f4"/>
<circle cx="466" cy="754" r="8" fill="#2b6a1f"/><text x="466" y="758" text-anchor="middle" font-family="Liberation Sans" font-size="11" fill="#e8f0e0">F</text>
<path d="M499.5 757.5 L500.9 752.3 A10.2 10.2 0 1 1 504.7 756.2 Z" fill="none" stroke="#1f9a55" stroke-width="2.2" stroke-linejoin="round"/>
<path d="M504.2 742.6 C503.2 743.4 503 745 504 747 C505.4 749.8 507.8 752 510.6 753 C512 753.5 513.2 753 513.8 751.8 L511.8 750.2 L510.5 751.2 C508.8 750.4 507.2 748.9 506.3 747.1 L507.2 745.7 L506 742.7 Z" fill="#1f9a55"/>
<circle cx="521.5" cy="755.3" r="8.2" fill="#d3d3d8" stroke="#6d6d72" stroke-width="1"/><text x="521.4" y="759.4" text-anchor="middle" font-family="Liberation Sans" font-size="11.5" fill="#111">15</text>
<g transform="translate(546,736)"><path fill="#111" d="M22.2819 9.8211a5.9847 5.9847 0 0 0-.5157-4.9108 6.0462 6.0462 0 0 0-6.5098-2.9A6.0651 6.0651 0 0 0 4.9807 4.1818a5.9847 5.9847 0 0 0-3.9977 2.9 6.0462 6.0462 0 0 0 .7427 7.0966 5.98 5.98 0 0 0 .511 4.9107 6.051 6.051 0 0 0 6.5146 2.9001A5.9847 5.9847 0 0 0 13.2599 24a6.0557 6.0557 0 0 0 5.7718-4.2058 5.9894 5.9894 0 0 0 3.9977-2.9001 6.0557 6.0557 0 0 0-.7475-7.0729zm-9.022 12.6081a4.4755 4.4755 0 0 1-2.8764-1.0408l.1419-.0804 4.7783-2.7582a.7948.7948 0 0 0 .3927-.6813v-6.7369l2.02 1.1686a.071.071 0 0 1 .038.052v5.5826a4.504 4.504 0 0 1-4.4945 4.4944zm-9.6607-4.1254a4.4708 4.4708 0 0 1-.5346-3.0137l.142.0852 4.783 2.7582a.7712.7712 0 0 0 .7806 0l5.8428-3.3685v2.3324a.0804.0804 0 0 1-.0332.0615L9.74 19.9502a4.4992 4.4992 0 0 1-6.1408-1.6464zM2.3408 7.8956a4.485 4.485 0 0 1 2.3655-1.9728V11.6a.7664.7664 0 0 0 .3879.6765l5.8144 3.3543-2.0201 1.1685a.0757.0757 0 0 1-.071 0l-4.8303-2.7865A4.504 4.504 0 0 1 2.3408 7.872zm16.5963 3.8558L13.1038 8.364 15.1192 7.2a.0757.0757 0 0 1 .071 0l4.8303 2.7913a4.4944 4.4944 0 0 1-.6765 8.1042v-5.6772a.79.79 0 0 0-.407-.667zm2.0107-3.0231l-.142-.0852-4.7735-2.7818a.7759.7759 0 0 0-.7854 0L9.409 9.2297V6.8974a.0662.0662 0 0 1 .0284-.0615l4.8303-2.7866a4.4992 4.4992 0 0 1 6.6802 4.66zM8.3065 12.863l-2.02-1.1638a.0804.0804 0 0 1-.038-.0567V6.0742a4.4992 4.4992 0 0 1 7.3757-3.4537l-.142.0805L8.704 5.459a.7948.7948 0 0 0-.3927.6813zm1.0976-2.3654l2.602-1.4998 2.6069 1.4998v2.9994l-2.5974 1.4997-2.6067-1.4997Z"/></g>
</svg>
<svg style="left:594px;top:735px" width="26" height="24"><rect x="1.9" y="4.6" width="21.8" height="16.4" rx="0.6" fill="#fdcf4f"/><rect x="1.9" y="3.9" width="9.9" height="3.1" rx="1.2" fill="#d9a20a"/><rect x="1.9" y="7" width="21.8" height="3" fill="#ffd863" opacity=".7"/><path d="M5.9 22 V13.6 H20 V22 H16 V17 H10 V22 Z" fill="#2f8ed6"/><rect x="10" y="17" width="6" height="5" fill="#f3c13e"/></svg>
<svg style="left:898px;top:732px" width="30" height="32"><defs><linearGradient id="sg" x1="0" y1="0" x2="0.6" y2="1"><stop offset="0" stop-color="#f7b928"/><stop offset="1" stop-color="#f0801e"/></linearGradient><linearGradient id="cg" x1="0" y1="0" x2="0" y2="1"><stop offset="0" stop-color="#d7e6f8"/><stop offset="1" stop-color="#b7cdeb"/></linearGradient></defs>
<circle cx="12.6" cy="15.8" r="9.9" fill="url(#sg)"/>
<path d="M3.2 12.1 A2.6 2.6 0 0 1 3.6 8.2 A4.2 4.2 0 0 1 10.6 6.4 A2.8 2.8 0 0 1 13.7 10.2 A2 2 0 0 1 12.6 12.1 Z" fill="url(#cg)"/>
<path d="M13.2 25.2 A2.8 2.8 0 0 1 13.6 20.4 A5 5 0 0 1 22 18.6 A3.2 3.2 0 0 1 25.9 23 A2.2 2.2 0 0 1 24.6 25.2 Z" fill="url(#cg)"/>
<circle cx="19.9" cy="9.8" r="5.8" fill="#c62828"/><text x="19.9" y="13.1" text-anchor="middle" font-family="Liberation Sans" font-size="9" font-weight="700" fill="#fff">3</text></svg>
<div class="t" style="left:932.7px;top:741.03px;font-size:14.5px;color:#111;letter-spacing:-0.6px">15°C</div>
<div class="t" style="left:970.5px;top:741.03px;font-size:14.5px;color:#111;letter-spacing:-0.55px">Partly sunny</div>
<svg style="left:1060px;top:728px" width="306" height="40" fill="none" stroke="#111">
<path d="M9.5 23 L15 17.5 L20.5 23" stroke-width="1.4"/>
<rect x="32.5" y="16.8" width="13.4" height="7.6" stroke-width="1.4" stroke="#000"/><rect x="34.2" y="18.5" width="10" height="4.2" fill="#000" stroke="none"/><rect x="46.2" y="18.8" width="1.4" height="3.6" fill="#000" stroke="none"/>
<defs><linearGradient id="odg" x1="0" y1="0" x2="1" y2="0.4"><stop offset="0" stop-color="#8c8c8c"/><stop offset="0.5" stop-color="#c4c4c6"/><stop offset="1" stop-color="#d2d2d4"/></linearGradient></defs><path d="M58.2 23.6 A3.9 3.9 0 0 1 57.2 16.3 A5.2 5.2 0 0 1 66.2 15 A3.6 3.6 0 0 1 69.5 21.2 Z" stroke-width="1.1" stroke="#333" fill="url(#odg)"/>
<circle cx="66.4" cy="23.6" r="4.5" fill="#c42b1c" stroke="#d6d7e3" stroke-width="0.8"/><path d="M64.8 22 L68 25.2 M68 22 L64.8 25.2" stroke="#fff" stroke-width="1.1"/>
<rect x="83" y="15.5" width="8.5" height="8.5" rx="1.5" stroke-width="1.3"/><path d="M91.5 18.2 L93.5 16.8 V22.7 L91.5 21.3" stroke-width="1.3"/><path d="M81.5 13.5 Q84 12.3 87 12.5 M81.5 26 Q84 27.2 87 27" stroke-width="1.1"/>
<path d="M103.5 16.5 H106 L109.5 13.5 V26 L106 23 H103.5 Z" stroke-width="1.3"/><path d="M112.5 17.5 L116.5 21.5 M116.5 17.5 L112.5 21.5" stroke-width="1.3"/>
<path d="M130 25 A11 11 0 0 1 141 14 M133.2 25 A7.8 7.8 0 0 1 141 17.2 M136.4 25 A4.6 4.6 0 0 1 141 20.4" stroke-width="1.3"/><circle cx="140.2" cy="24.6" r="1.5" fill="#111" stroke="none"/>
</svg>
<div class="t" style="left:1213.4px;top:732.67px;font-size:12.2px;color:#111;letter-spacing:-0.3px;transform:scaleX(0.9);transform-origin:0 0">ENG</div>
<div class="t" style="left:1219px;top:750.07px;font-size:12.2px;color:#111;">IN</div>
<div class="t" style="left:1264.6px;top:732.07px;font-size:12.2px;color:#111;transform:scaleX(0.86);transform-origin:0 0">16:33</div>
<div class="t" style="left:1249px;top:750.07px;font-size:12.2px;color:#111;letter-spacing:-0.3px;transform:scaleX(0.965);transform-origin:0 0">31-12-2025</div>
<svg style="left:1320px;top:728px" width="46" height="40"><path d="M5 12.1 H20.9 V25 H14 L11.6 27.2 V25 H5 Z" fill="#000"/><path d="M8 15.4 H18 M8 18.4 H18 M8 21.5 H14.5" stroke="#eeeef3" stroke-width="1"/><circle cx="20.6" cy="27.3" r="7.5" fill="#dcdce1" stroke="#6f6f74" stroke-width="1.1"/><text x="20.7" y="31.4" text-anchor="middle" font-family="Liberation Sans" font-size="11.5" font-weight="700" fill="#111">1</text><rect x="41" y="0" width="1.2" height="40" fill="#b4b5c0"/></svg>
</body></html>
